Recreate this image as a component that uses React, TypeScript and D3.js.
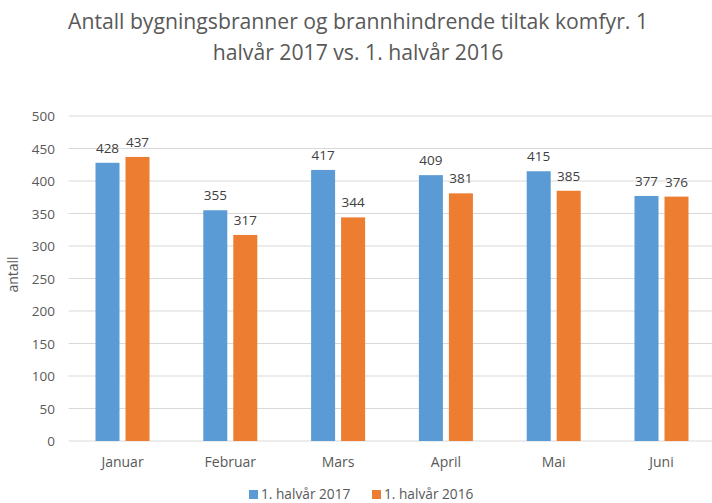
import React from "react";
import * as d3 from "d3";

const months = ["Januar", "Februar", "Mars", "April", "Mai", "Juni"];
const h2017 = [428, 355, 417, 409, 415, 377];
const h2016 = [437, 317, 344, 381, 385, 376];
const seriesNames = ["1. halvår 2017", "1. halvår 2016"];
const yTicks = [0, 50, 100, 150, 200, 250, 300, 350, 400, 450, 500];

const W = 712;
const H = 503;
const FONT = "'Open Sans', sans-serif";
const colors = ["#5B9BD5", "#ED7D31"];

export default function App() {
  const left = 68.6;
  const right = 715.4;
  const top = 116;
  const bottom = 441;
  const x = d3.scaleBand<string>().domain(months).range([left, right]).padding(0);
  const y = d3.scaleLinear().domain([0, 500]).range([bottom, top]);
  const barW = 24;
  const gap = 6;
  const series = [h2017, h2016];

  return (
    <svg width={W} height={H} style={{ position: "absolute", left: 0, top: 0, background: "#fff" }} fontFamily={FONT}>
      <rect x={0} y={0} width={W} height={H} fill="#fff" />
      <text x={358} y={29} textAnchor="middle" fontSize={21.2} fill="#595959">
        Antall bygningsbranner og brannhindrende tiltak komfyr. 1
      </text>
      <text x={358} y={60} textAnchor="middle" fontSize={21.2} fill="#595959">
        halvår 2017 vs. 1. halvår 2016
      </text>
      {yTicks.map((t) => (
        <g key={t}>
          <line x1={left} x2={W} y1={y(t)} y2={y(t)} stroke="#D9D9D9" strokeWidth={1} />
          <text x={55} y={y(t) + 5} textAnchor="end" fontSize={13.5} fill="#595959">
            {t}
          </text>
        </g>
      ))}
      <text
        transform={`translate(18,${(top + bottom) / 2 - 4}) rotate(-90)`}
        textAnchor="middle"
        fontSize={14}
        fill="#595959"
      >
        antall
      </text>
      {months.map((m, i) => {
        const cx = (x(m) as number) + x.bandwidth() / 2;
        return (
          <g key={m}>
            {series.map((s, j) => {
              const bx = cx - gap / 2 - barW + j * (barW + gap);
              return (
                <g key={j}>
                  <rect x={bx} y={y(s[i])} width={barW} height={bottom - y(s[i])} fill={colors[j]} />
                  <text x={bx + barW / 2} y={y(s[i]) - 10} textAnchor="middle" fontSize={13.5} fill="#404040">
                    {s[i]}
                  </text>
                </g>
              );
            })}
            <text x={cx} y={467} textAnchor="middle" fontSize={14} fill="#595959">
              {m}
            </text>
          </g>
        );
      })}
      {seriesNames.map((n, j) => {
        const lx = [249, 372][j];
        return (
          <g key={n}>
            <rect x={lx} y={490} width={9} height={9} fill={colors[j]} />
            <text x={lx + 12} y={499} fontSize={13.7} fill="#595959">
              {n}
            </text>
          </g>
        );
      })}
    </svg>
  );
}
